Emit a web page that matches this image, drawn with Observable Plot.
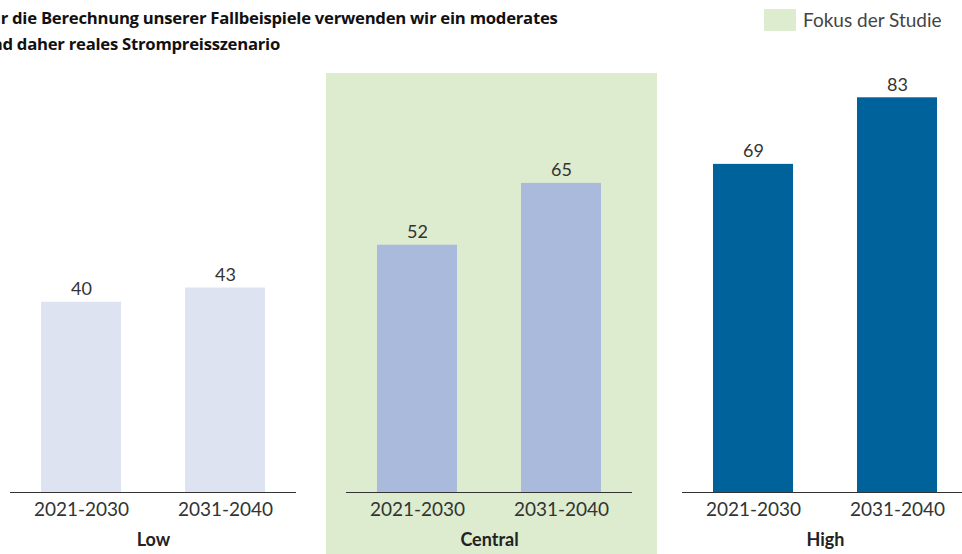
<!DOCTYPE html>
<html>
<head>
<meta charset="utf-8">
<script src="https://cdn.jsdelivr.net/npm/d3@7"></script>
<script src="https://cdn.jsdelivr.net/npm/@observablehq/plot@0.6"></script>
<style>
  html, body { margin: 0; padding: 0; background: #fff; }
  #wrap { position: relative; width: 962px; height: 554px; overflow: hidden; }
  #title { position: absolute; left: -19px; top: 5px; font-family: "Open Sans", sans-serif; font-weight: 700; font-size: 16.7px; line-height: 26px; color: #111; white-space: nowrap; letter-spacing: -0.25px; }
  #legend { position: absolute; left: 764px; top: 8px; display: flex; align-items: center; font-family: Lato, sans-serif; font-size: 19px; color: #444; }
  #legend .sw { width: 32px; height: 22px; background: #ddebcf; margin-right: 7px; }
  #chart { position: absolute; left: 0; top: 0; }
  #chart svg { max-width: none !important; }
</style>
</head>
<body>
<div id="wrap">
  <div id="chart"></div>
  <div id="title">Für die Berechnung unserer Fallbeispiele verwenden wir ein moderates<br>und daher reales Strompreisszenario</div>
  <div id="legend"><div class="sw"></div><span>Fokus der Studie</span></div>
</div>
<script>
const scenarios = ["Low", "Central", "High"];
const periods = ["2021-2030", "2031-2040"];
const lowValues = [40, 43];
const centralValues = [52, 65];
const highValues = [69, 83];
const barColors = ["#dde3f1", "#a9badd", "#00629b"];
const focusScenario = "Central";

const seriesValues = [lowValues, centralValues, highValues];
const data = scenarios.flatMap((s, i) => periods.map((p, j) => ({scenario: s, period: p, value: seriesValues[i][j]})));

const chart = Plot.plot({
  width: 968,
  height: 554,
  marginLeft: 10,
  marginRight: 0,
  marginTop: 64,
  marginBottom: 62,
  style: {fontFamily: "Lato, sans-serif", color: "#333", background: "transparent", maxWidth: "none"},
  fx: {domain: scenarios, paddingInner: 50 / 336, paddingOuter: 0, label: null},
  x: {domain: periods, paddingInner: 0.444, paddingOuter: 0.215, label: null},
  y: {domain: [0, 90], axis: null},
  color: {domain: scenarios, range: barColors},
  marks: [
    Plot.rect([{scenario: focusScenario}], {fx: "scenario", fill: "#ddebcf", insetLeft: -20, insetRight: -25, insetTop: 9, insetBottom: -62}),
    Plot.barY(data, {fx: "scenario", x: "period", y: "value", fill: "scenario"}),
    Plot.text(data, {fx: "scenario", x: "period", y: "value", text: d => String(d.value), dy: -13, fontSize: 18, fill: "#333"}),
    Plot.ruleY([0], {stroke: "#333", strokeWidth: 1.2}),
    Plot.axisX({tickSize: 0, tickPadding: 10, fontSize: 19, fill: "#333"}),
    Plot.axisFx({anchor: "bottom", tickSize: 0, tickPadding: 41, fontSize: 18, fontWeight: 700, fill: "#222", label: null})
  ]
});
document.getElementById("chart").appendChild(chart);
</script>
</body>
</html>
